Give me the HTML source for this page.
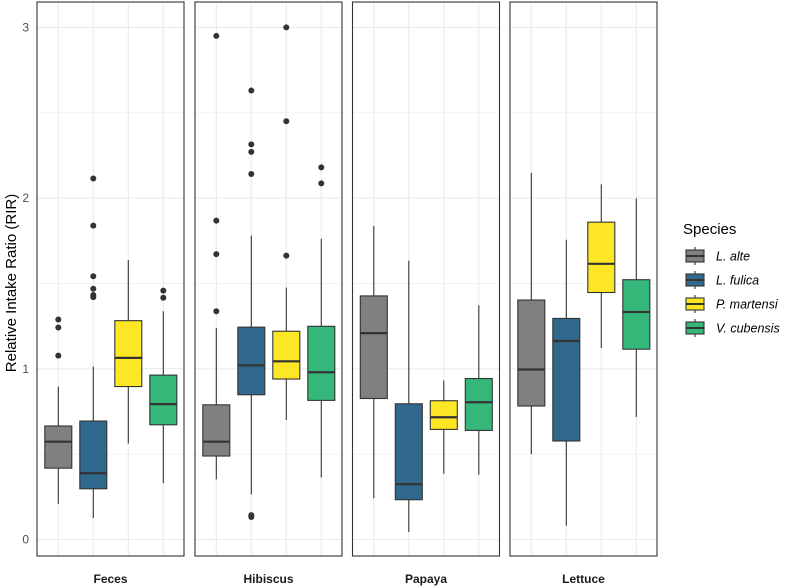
<!DOCTYPE html>
<html><head><meta charset="utf-8"><style>
body{margin:0;background:#fff;}
svg{display:block;font-family:"Liberation Sans",Arial,sans-serif;}
</style></head><body>
<svg id="chart" width="787" height="588"></svg>
<script>
const facets=["Feces","Hibiscus","Papaya","Lettuce"];
const species=["L. alte","L. fulica","P. martensi","V. cubensis"];
const colors=["#808080","#31688e","#fde725","#35b779"];
const yTicks=[0,1,2,3];
// each: [whiskerLow, q1, median, q3, whiskerHigh]
const statsFeces=[[0.209,0.418,0.573,0.665,0.896],[0.126,0.297,0.388,0.694,1.013],[0.562,0.896,1.064,1.282,1.637],[0.33,0.672,0.793,0.963,1.337]];
const statsHibiscus=[[0.352,0.489,0.573,0.789,1.24],[0.264,0.848,1.02,1.244,1.78],[0.7,0.94,1.044,1.22,1.476],[0.363,0.815,0.98,1.249,1.762]];
const statsPapaya=[[0.242,0.826,1.209,1.427,1.837],[0.044,0.233,0.324,0.795,1.634],[0.385,0.645,0.716,0.813,0.932],[0.379,0.639,0.804,0.943,1.372]];
const statsLettuce=[[0.5,0.782,0.996,1.403,2.148],[0.081,0.577,1.163,1.295,1.756],[1.121,1.447,1.615,1.859,2.081],[0.718,1.115,1.333,1.522,1.998]];
const outFeces=[[1.289,1.242,1.077],[2.115,1.839,1.542,1.469,1.432,1.42],[],[1.458,1.416]];
const outHibiscus=[[2.95,1.868,1.672,1.337],[2.63,2.315,2.271,2.141,0.143,0.132],[3.0,2.45,1.663],[2.18,2.086]];
const outPapaya=[[],[],[],[]];
const outLettuce=[[],[],[],[]];
const allStats=[statsFeces,statsHibiscus,statsPapaya,statsLettuce];
const allOut=[outFeces,outHibiscus,outPapaya,outLettuce];

const NS="http://www.w3.org/2000/svg";
const svg=document.getElementById('chart');
function mk(t,a,p){const e=document.createElementNS(NS,t);for(const k in a)e.setAttribute(k,a[k]);(p||svg).appendChild(e);return e;}
const panelX=[37,195,352.5,510],panelW=147,pTop=2,pBot=556;
const y=v=>539.5-v*170.7;
const xc=(p,i)=>panelX[p]+21.3+i*35;

facets.forEach((f,p)=>{
  const g=mk('g',{});
  
  
  mk('rect',{x:panelX[p],y:pTop,width:panelW,height:pBot-pTop,fill:'#fff'},g);
  for(let v=0;v<=3;v+=0.5){
    const gl=mk('line',{x1:panelX[p],x2:panelX[p]+panelW,y1:y(v),y2:y(v),stroke:'#ebebeb','stroke-width':v%1?0.6:1.1},g);
    
    
  }
  species.forEach((s,i)=>{
    mk('line',{x1:xc(p,i),x2:xc(p,i),y1:pTop,y2:pBot,stroke:'#ebebeb','stroke-width':1.1},g);
  });
  species.forEach((s,i)=>{
    const st=allStats[p][i],cx=xc(p,i),hw=13.5;
    const bg=mk('g',{},g);
    
    
    mk('line',{x1:cx,x2:cx,y1:y(st[0]),y2:y(st[1]),stroke:'#333','stroke-width':1.1},bg);
    mk('line',{x1:cx,x2:cx,y1:y(st[3]),y2:y(st[4]),stroke:'#333','stroke-width':1.1},bg);
    mk('rect',{x:cx-hw,y:y(st[3]),width:2*hw,height:y(st[1])-y(st[3]),fill:colors[i],stroke:'#333','stroke-width':1.1},bg);
    mk('line',{x1:cx-hw,x2:cx+hw,y1:y(st[2]),y2:y(st[2]),stroke:'#333','stroke-width':2.2},bg);
    allOut[p][i].forEach(v=>{
      const c=mk('circle',{cx:cx,cy:y(v),r:3,fill:'#333'},bg);
      
      
    });
  });
  mk('rect',{x:panelX[p],y:pTop,width:panelW,height:pBot-pTop,fill:'none',stroke:'#333','stroke-width':1.1},g);
  const t=mk('text',{x:panelX[p]+panelW/2,y:583,'text-anchor':'middle','font-size':12,'font-weight':'bold',fill:'#1a1a1a'});
  t.textContent=f;
  
  
});
yTicks.forEach(v=>{
  const t=mk('text',{x:29,y:y(v)+4,'text-anchor':'end','font-size':12,fill:'#4d4d4d'});
  t.textContent=v;
  
  
});
const yt=mk('text',{x:0,y:0,transform:'translate(16,283) rotate(-90)','text-anchor':'middle','font-size':15,fill:'#000'});
yt.textContent='Relative Intake Ratio (RIR)';



const lg=mk('g',{});


const lt=mk('text',{x:683,y:234,'font-size':15,fill:'#000'},lg);
lt.textContent='Species';
species.forEach((s,i)=>{
  const cy=256+i*24;
  const e=mk('g',{},lg);
  
  
  mk('line',{x1:695,x2:695,y1:cy-9,y2:cy+9,stroke:'#333','stroke-width':1.1},e);
  mk('rect',{x:686,y:cy-6,width:18,height:12,fill:colors[i],stroke:'#333','stroke-width':1.1},e);
  mk('line',{x1:686,x2:704,y1:cy,y2:cy,stroke:'#333','stroke-width':2},e);
  const tx=mk('text',{x:716,y:cy+4.5,'font-size':12.5,'font-style':'italic',fill:'#000'},e);
  tx.textContent=s;
});
</script>
</body></html>
